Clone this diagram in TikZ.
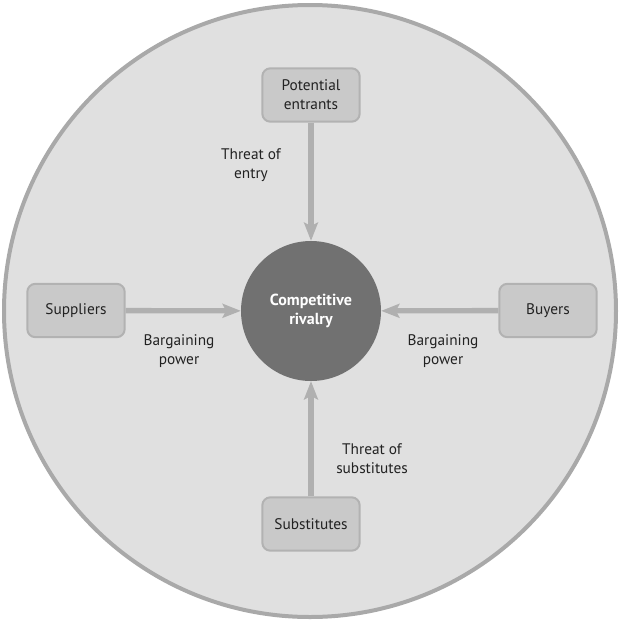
\documentclass[tikz,border=0pt]{standalone}
\usepackage{fontspec}
\setmainfont{PT Sans}
\usetikzlibrary{arrows.meta, positioning}

\definecolor{ringfill}{HTML}{E0E0E0}
\definecolor{ringline}{HTML}{A9A9A9}
\definecolor{boxfill}{HTML}{C9C9C9}
\definecolor{boxline}{HTML}{B2B2B2}
\definecolor{hubfill}{HTML}{717171}
\definecolor{forceline}{HTML}{B0B0B0}
\definecolor{inktext}{HTML}{222222}

\tikzset{
  forcebox/.style={draw=boxline, fill=boxfill, line width=1.5pt, rounded corners=6pt,
    minimum width=73pt, minimum height=40pt, align=center, text=inktext, font=\fontsize{11.5}{14.3}\selectfont},
  forcelabel/.style={align=center, text=inktext, font=\fontsize{11.5}{14.3}\selectfont},
  force/.style={draw=forceline, line width=4pt,
    -{Stealth[length=14pt, width=11pt, inset=3pt, line width=0pt]}}
}

\begin{document}
\begin{tikzpicture}[x=0.75pt, y=-0.75pt]
\useasboundingbox (0,0) rectangle (619,622);
% outer ring
\draw [ringline, fill=ringfill, line width=3pt] (310,311) circle (306);
% hub
\node (rivalry) [circle, fill=hubfill, minimum size=105pt, inner sep=0pt, align=center,
  text=white, font=\fontsize{12}{14.3}\selectfont\bfseries] at (311,311) {Competitive\\rivalry};
% the four forces
\node (entrants) [forcebox] at (311,95) {Potential\\entrants};
\node (suppliers) [forcebox] at (76,310.5) {Suppliers};
\node (buyers) [forcebox] at (548,310.5) {Buyers};
\node (substitutes) [forcebox] at (311,524) {Substitutes};
\draw [force] (entrants) -- (rivalry);
\draw [force] (suppliers) -- (rivalry);
\draw [force] (buyers) -- (rivalry);
\draw [force] (substitutes) -- (rivalry);
% labels
\node (entrylabel) [forcelabel] at (251,165) {Threat of\\entry};
\node (supplylabel) [forcelabel] at (179,351) {Bargaining\\power};
\node (buylabel) [forcelabel] at (443,351) {Bargaining\\power};
\node (sublabel) [forcelabel] at (372,459) {Threat of\\substitutes};
\end{tikzpicture}
\end{document}
